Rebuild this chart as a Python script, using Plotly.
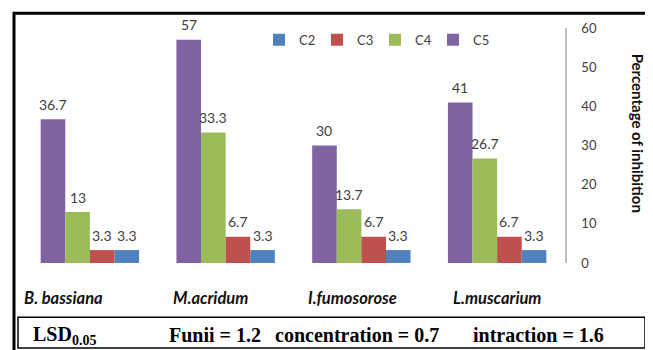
import plotly.graph_objects as go

# ---- data ----
categories = ["B. bassiana", "M.acridum", "I.fumosorose", "L.muscarium"]
series_names = ["C5", "C4", "C3", "C2"]          # left-to-right order inside each group
C5 = [36.7, 57, 30, 41]
C4 = [13, 33.3, 13.7, 26.7]
C3 = [3.3, 6.7, 6.7, 6.7]
C2 = [3.3, 3.3, 3.3, 3.3]
y_ticks = [0, 10, 20, 30, 40, 50, 60]
y_title = "Percentage of inhibition"
lsd_texts = ["LSD<sub>0.05</sub>", "Funii = 1.2", "concentration = 0.7", "intraction = 1.6"]

series_values = [C5, C4, C3, C2]
colors = ["#8064A2", "#9BBB59", "#C0504D", "#4F81BD"]

# page body has an 8px margin; lay out in window pixels and compensate
OFF = 8
W, H = 653 - OFF, 350 - OFF
plot_left, plot_right, plot_top, plot_bottom = 22, 565, 25, 263
L = plot_left - OFF
T = plot_top - OFF
R = W - (plot_right - OFF)
B = H - (plot_bottom - OFF)
pw = plot_right - plot_left
ph = plot_bottom - plot_top

def px_x(p):
    return (p - plot_left) / pw

def px_y(p):
    return (plot_bottom - p) / ph

bargap = 0.275

fig = go.Figure()
for name, vals, col in zip(series_names, series_values, colors):
    fig.add_trace(go.Bar(
        name=name, x=categories, y=vals, marker=dict(color=col, line=dict(width=0)),
        hoverinfo="x+y",
    ))

annotations = []
# data labels
n = len(series_names)
bw = (1 - bargap) / n
for i, vals in enumerate(series_values):
    off = (i - (n - 1) / 2) * bw
    for j, v in enumerate(vals):
        annotations.append(dict(
            x=j + off, y=v, xref="x", yref="y", text=f"{v:g}", showarrow=False,
            yanchor="middle", yshift=15,
            font=dict(family="Lato, Carlito, sans-serif", size=14, color="#404040"),
        ))

# category labels (centres in window px: 64, 211, 353, 498)
label_shift = [-26, -15, -9, 0]
for j, c in enumerate(categories):
    annotations.append(dict(
        x=j, y=0, xref="x", yref="paper", text=f"<b><i>{c}</i></b>", showarrow=False,
        xshift=label_shift[j], yshift=-35, yanchor="middle",
        font=dict(family="Lato, sans-serif", size=16.5, color="#111111"),
    ))

# axis title (rotated clockwise)
annotations.append(dict(
    x=px_x(638), y=px_y(131), xref="paper", yref="paper", text=f"<b>{y_title}</b>",
    textangle=90, showarrow=False, xanchor="center", yanchor="middle",
    font=dict(family="Lato, sans-serif", size=15, color="#111111"),
))

# LSD texts
lsd_x = [31, 167, 273, 471]
for t, xp in zip(lsd_texts, lsd_x):
    annotations.append(dict(
        x=px_x(xp), y=px_y(336), xref="paper", yref="paper", text=f"<b>{t}</b>",
        showarrow=False, xanchor="left", yanchor="middle",
        font=dict(family="Liberation Serif, Times New Roman, serif", size=20, color="#000000"),
    ))

shapes = [
    dict(type="rect", xref="paper", yref="paper",
         x0=px_x(14), x1=px_x(648), y0=px_y(356), y1=px_y(10),
         line=dict(color="#000000", width=3), fillcolor="rgba(0,0,0,0)"),
    dict(type="rect", xref="paper", yref="paper",
         x0=px_x(18), x1=px_x(645), y0=px_y(349), y1=px_y(318),
         line=dict(color="#000000", width=1.5), fillcolor="rgba(0,0,0,0)"),
]

fig.update_layout(
    width=W, height=H,
    margin=dict(l=L, r=R, t=T, b=B, pad=0),
    paper_bgcolor="white", plot_bgcolor="white",
    barmode="group", bargap=bargap, bargroupgap=0,
    showlegend=True,
    legend=dict(
        orientation="h", traceorder="reversed",
        x=px_x(259), xanchor="left", y=px_y(37), yanchor="middle",
        font=dict(family="Lato, Carlito, sans-serif", size=13, color="#404040"),
        entrywidth=13, bgcolor="rgba(0,0,0,0)", borderwidth=0,
    ),
    xaxis=dict(
        type="category", showticklabels=False, showline=False, showgrid=False,
        zeroline=False, ticks="", range=[-0.5, len(categories) - 0.5],
    ),
    yaxis=dict(
        side="right", range=[0, 60], tickvals=y_ticks, showgrid=False, zeroline=False,
        showline=True, linecolor="#BFBFBF", linewidth=1.5, ticks="",
        ticklabelstandoff=12,
        tickfont=dict(family="Lato, Carlito, sans-serif", size=13, color="#404040"),
    ),
    annotations=annotations,
    shapes=shapes,
)

fig.write_html("out.html")
